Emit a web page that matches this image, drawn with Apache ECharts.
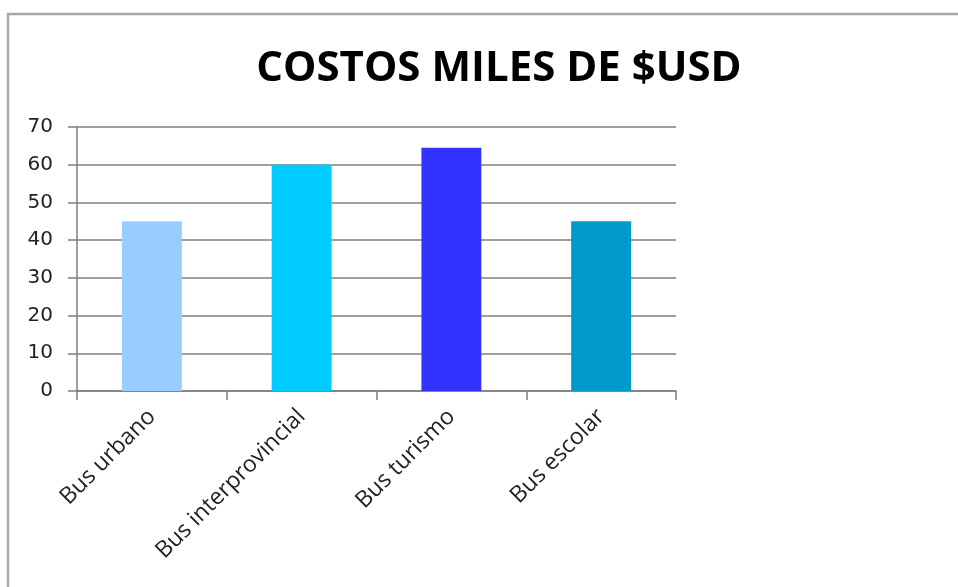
<!DOCTYPE html>
<html>
<head>
<meta charset="utf-8">
<script src="https://cdn.jsdelivr.net/npm/echarts@6/dist/echarts.min.js"></script>
<style>
  html, body { margin: 0; padding: 0; background: #ffffff; }
  #chart { width: 958px; height: 587px; }
</style>
</head>
<body>
<div id="chart"></div>
<script>
// Bus categories and their costs (thousands of USD)
const categories = ['Bus urbano', 'Bus interprovincial', 'Bus turismo', 'Bus escolar'];
const costs = [45, 60, 64.5, 45];
const barColors = ['#99ccff', '#00ccff', '#3333ff', '#0099cc'];
const yTicks = [0, 10, 20, 30, 40, 50, 60, 70];

const chart = echarts.init(document.getElementById('chart'));

chart.setOption({
  backgroundColor: '#ffffff',
  animation: false,
  graphic: [{
    type: 'rect',
    shape: { x: 8, y: 14, width: 980, height: 620 },
    style: { fill: 'none', stroke: '#a8a8a8', lineWidth: 2.5 },
    z: 10
  }],
  title: {
    text: 'COSTOS MILES DE $USD',
    left: 494,
    textAlign: 'center',
    top: 43,
    textStyle: {
      fontFamily: 'Open Sans',
      fontWeight: 'bold',
      fontSize: 42,
      color: '#000000'
    }
  },
  grid: { left: 77, right: 282, top: 127, bottom: 196, containLabel: false },
  xAxis: {
    type: 'category',
    data: categories,
    axisLine: { show: true, lineStyle: { color: '#7f7f7f', width: 1.5 } },
    axisTick: { show: true, length: 9, alignWithLabel: false, lineStyle: { color: '#7f7f7f', width: 1.5 } },
    axisLabel: {
      rotate: 45,
      margin: 22,
      interval: 0,
      fontFamily: 'Open Sans',
      fontSize: 23,
      color: '#222222'
    }
  },
  yAxis: {
    type: 'value',
    min: yTicks[0],
    max: yTicks[yTicks.length - 1],
    interval: 10,
    axisLine: { show: true, lineStyle: { color: '#7f7f7f', width: 1.5 } },
    axisTick: { show: true, length: 9, lineStyle: { color: '#7f7f7f', width: 1.5 } },
    splitLine: { show: true, lineStyle: { color: '#7f7f7f', width: 1.5 } },
    axisLabel: {
      margin: 24,
      fontFamily: 'DejaVu Sans',
      fontSize: 20,
      color: '#222222'
    }
  },
  series: [{
    type: 'bar',
    barWidth: '40%',
    data: costs.map((v, i) => ({ value: v, itemStyle: { color: barColors[i] } })),
    z: 3
  }]
});
</script>
</body>
</html>
